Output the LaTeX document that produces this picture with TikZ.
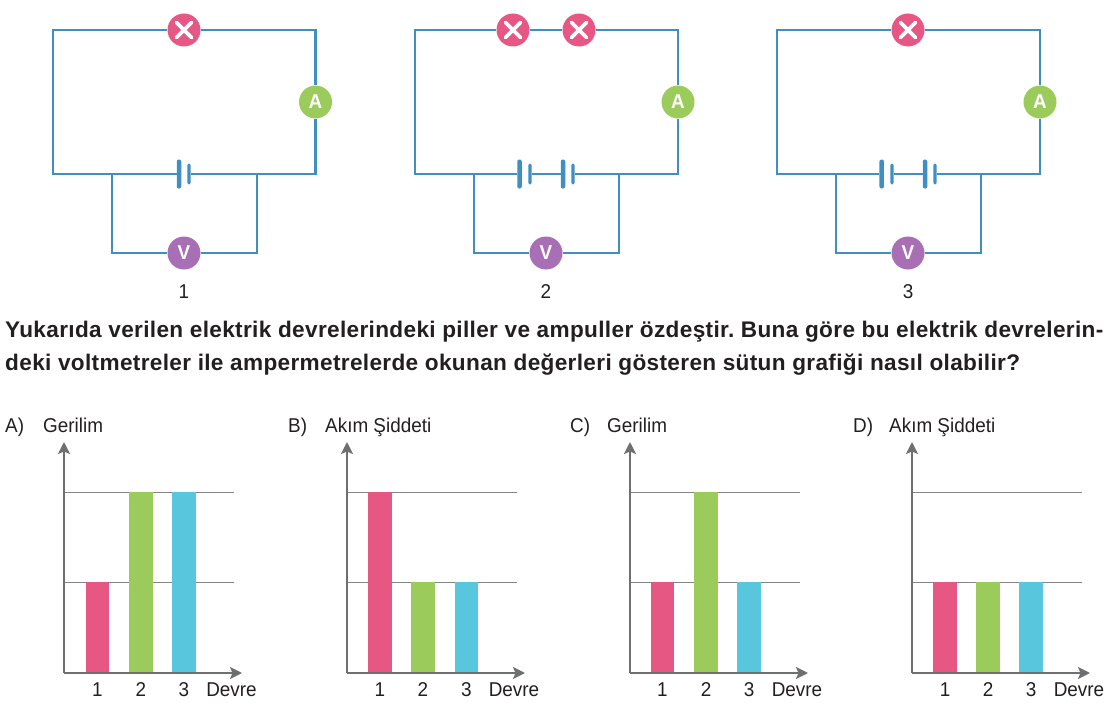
\documentclass[tikz,border=0pt]{standalone}
\usepackage{fontspec}
\setmainfont{Liberation Sans}
\newfontfamily\sorufont[LetterSpace=1.5]{Liberation Sans}
\newfontfamily\darfont[FakeStretch=.945]{Liberation Sans}
\usetikzlibrary{arrows.meta}
\definecolor{wire}{HTML}{3F8FC1}\definecolor{pink}{HTML}{E65783}\definecolor{lime}{HTML}{9BCB5B}
\definecolor{violet}{HTML}{A86FB4}\definecolor{cyan}{HTML}{58C6DC}\definecolor{axis}{HTML}{6E6F71}
\definecolor{ink}{HTML}{231F20}
\begin{document}
\begin{tikzpicture}
[x=1pt,y=-1pt,
w/.style={draw=wire,line width=2.2pt},
l/.style={circle,fill=pink,inner sep=0pt,minimum size=33pt,path picture={
 \draw[white,line width=3.6pt,line cap=round] ([shift={(-7.5,-7.5)}]path picture bounding box.center)--([shift={(7.5,7.5)}]path picture bounding box.center);
 \draw[white,line width=3.6pt,line cap=round] ([shift={(-7.5,7.5)}]path picture bounding box.center)--([shift={(7.5,-7.5)}]path picture bounding box.center);}},
m/.style={circle,inner sep=0pt,minimum size=33pt,text=white,font=\darfont\fontsize{20}{20}\selectfont\bfseries},
p/.style={fill=wire,inner sep=0pt,rounded corners=2pt,minimum width=4.5pt,minimum height=29pt},
q/.style={fill=wire,inner sep=0pt,rounded corners=1.6pt,minimum width=3.4pt,minimum height=21pt},
t/.style={inner sep=0pt,text=ink,text height=14pt,text depth=4pt,font=\darfont\fontsize{20}{20}\selectfont},
h/.style={inner sep=0pt,anchor=west,text=ink,font=\sorufont\fontsize{22.6}{22.6}\selectfont\bfseries\frenchspacing},
o/.style={draw=axis,line width=2.3pt,-{Stealth[length=12pt,width=12pt,inset=2.5pt]}},
g/.style={draw=axis!85,line width=.8pt},
b/.style={inner sep=0pt,anchor=south,minimum width=23.5pt}]
\useasboundingbox (0,0) rectangle (1112,709);
% devre 1
\node(l1) at (184,30)[l]{};\node(a1) at (315.5,102)[m,fill=lime]{A};\node(v1) at (184,253)[m,fill=violet]{V};
\node(p1) at (179,174)[p]{};\node(q1) at (189,174)[q]{};
\coordinate(c1) at (53,30);\coordinate(c2) at (315.5,30);\coordinate(c3) at (315.5,174);\coordinate(c4) at (53,174);
\coordinate(c5) at (112,174);\coordinate(c6) at (112,253);\coordinate(c7) at (257,174);\coordinate(c8) at (257,253);
\draw[w](p1)--(c4)--(c1)--(l1);\draw[w](l1)--(c2)--(a1);\draw[w](a1)--(c3)--(q1);
\draw[w](c5)--(c6)--(v1);\draw[w](v1)--(c8)--(c7);
\node(n1) at (184,293)[t]{1};
% devre 2
\node(l2) at (513,30)[l]{};\node(l3) at (579,30)[l]{};\node(a2) at (678,102)[m,fill=lime]{A};\node(v2) at (546,253)[m,fill=violet]{V};
\node(p2) at (519.5,174)[p]{};\node(q2) at (530,174)[q]{};\node(p3) at (563,174)[p]{};\node(q3) at (573,174)[q]{};
\coordinate(d1) at (415,30);\coordinate(d2) at (678,30);\coordinate(d3) at (678,174);\coordinate(d4) at (415,174);
\coordinate(d5) at (474,174);\coordinate(d6) at (474,253);\coordinate(d7) at (619,174);\coordinate(d8) at (619,253);
\draw[w](p2)--(d4)--(d1)--(l2);\draw[w](l2)--(l3);\draw[w](l3)--(d2)--(a2);\draw[w](a2)--(d3)--(q3);\draw[w](q2)--(p3);
\draw[w](d5)--(d6)--(v2);\draw[w](v2)--(d8)--(d7);
\node(n2) at (546,293)[t]{2};
% devre 3
\node(l4) at (908,30)[l]{};\node(a3) at (1040,102)[m,fill=lime]{A};\node(v3) at (908,253)[m,fill=violet]{V};
\node(p4) at (881.7,174)[p]{};\node(q4) at (892,174)[q]{};\node(p5) at (925,174)[p]{};\node(q5) at (935,174)[q]{};
\coordinate(e1) at (777,30);\coordinate(e2) at (1040,30);\coordinate(e3) at (1040,174);\coordinate(e4) at (777,174);
\coordinate(e5) at (836,174);\coordinate(e6) at (836,253);\coordinate(e7) at (981,174);\coordinate(e8) at (981,253);
\draw[w](p4)--(e4)--(e1)--(l4);\draw[w](l4)--(e2)--(a3);\draw[w](a3)--(e3)--(q5);\draw[w](q4)--(p5);
\draw[w](e5)--(e6)--(v3);\draw[w](v3)--(e8)--(e7);
\node(n3) at (908,293)[t]{3};
% soru
\node(s1) at (5,331.5)[h]{Yukarıda verilen elektrik devrelerindeki piller ve ampuller özdeştir. Buna göre bu elektrik devrelerin-};
\node(s2) at (5,365)[h]{deki voltmetreler ile ampermetrelerde okunan değerleri gösteren sütun grafiği nasıl olabilir?};
% grafik A
\node(ta) at (5,427)[t,anchor=west]{A)};\node(ya) at (43,427)[t,anchor=west]{Gerilim};
\coordinate(oa) at (64,673);\coordinate(ua) at (64,442);\coordinate(ra) at (242,673);
\coordinate(ga) at (65,492);\coordinate(ha) at (234,492);\coordinate(ia) at (65,582);\coordinate(ja) at (234,582);
\draw[g](ga)--(ha);\draw[g](ia)--(ja);
\draw[o](oa)--(ua);\draw[o](oa)--(ra);
\node(a1b) at (97.5,672)[b,fill=pink,minimum height=90pt]{};\node(a2b) at (141,672)[b,fill=lime,minimum height=180pt]{};\node(a3b) at (184,672)[b,fill=cyan,minimum height=180pt]{};
\node(a1n) at (97.5,691)[t]{1};\node(a2n) at (141,691)[t]{2};\node(a3n) at (184,691)[t]{3};\node(an) at (231.5,691)[t]{Devre};
% grafik B
\node(tb) at (288,427)[t,anchor=west]{B)};\node(yb) at (325,427)[t,anchor=west]{Akım Şiddeti};
\coordinate(ob) at (347,673);\coordinate(ub) at (347,442);\coordinate(rb) at (525,673);
\coordinate(gb) at (348,492);\coordinate(hb) at (517,492);\coordinate(ib) at (348,582);\coordinate(jb) at (517,582);
\draw[g](gb)--(hb);\draw[g](ib)--(jb);
\draw[o](ob)--(ub);\draw[o](ob)--(rb);
\node(b1b) at (380,672)[b,fill=pink,minimum height=180pt]{};\node(b2b) at (423,672)[b,fill=lime,minimum height=90pt]{};\node(b3b) at (466.5,672)[b,fill=cyan,minimum height=90pt]{};
\node(b1n) at (380,691)[t]{1};\node(b2n) at (423,691)[t]{2};\node(b3n) at (466.5,691)[t]{3};\node(bn) at (514,691)[t]{Devre};
% grafik C
\node(tc) at (570,427)[t,anchor=west]{C)};\node(yc) at (607,427)[t,anchor=west]{Gerilim};
\coordinate(oc) at (630,673);\coordinate(uc) at (630,442);\coordinate(rc) at (808,673);
\coordinate(gc) at (631,492);\coordinate(hc) at (800,492);\coordinate(ic) at (631,582);\coordinate(jc) at (800,582);
\draw[g](gc)--(hc);\draw[g](ic)--(jc);
\draw[o](oc)--(uc);\draw[o](oc)--(rc);
\node(c1b) at (662.5,672)[b,fill=pink,minimum height=90pt]{};\node(c2b) at (706,672)[b,fill=lime,minimum height=180pt]{};\node(c3b) at (749,672)[b,fill=cyan,minimum height=90pt]{};
\node(c1n) at (662.5,691)[t]{1};\node(c2n) at (706,691)[t]{2};\node(c3n) at (749,691)[t]{3};\node(cn) at (797,691)[t]{Devre};
% grafik D
\node(td) at (853,427)[t,anchor=west]{D)};\node(yd) at (889,427)[t,anchor=west]{Akım Şiddeti};
\coordinate(od) at (912,673);\coordinate(ud) at (912,442);\coordinate(rd) at (1090,673);
\coordinate(gd) at (913,492);\coordinate(hd) at (1082,492);\coordinate(id) at (913,582);\coordinate(jd) at (1082,582);
\draw[g](gd)--(hd);\draw[g](id)--(jd);
\draw[o](od)--(ud);\draw[o](od)--(rd);
\node(d1b) at (945,672)[b,fill=pink,minimum height=90pt]{};\node(d2b) at (988,672)[b,fill=lime,minimum height=90pt]{};\node(d3b) at (1031,672)[b,fill=cyan,minimum height=90pt]{};
\node(d1n) at (945,691)[t]{1};\node(d2n) at (988,691)[t]{2};\node(d3n) at (1031,691)[t]{3};\node(dn) at (1079,691)[t]{Devre};
\end{tikzpicture}
\end{document}
